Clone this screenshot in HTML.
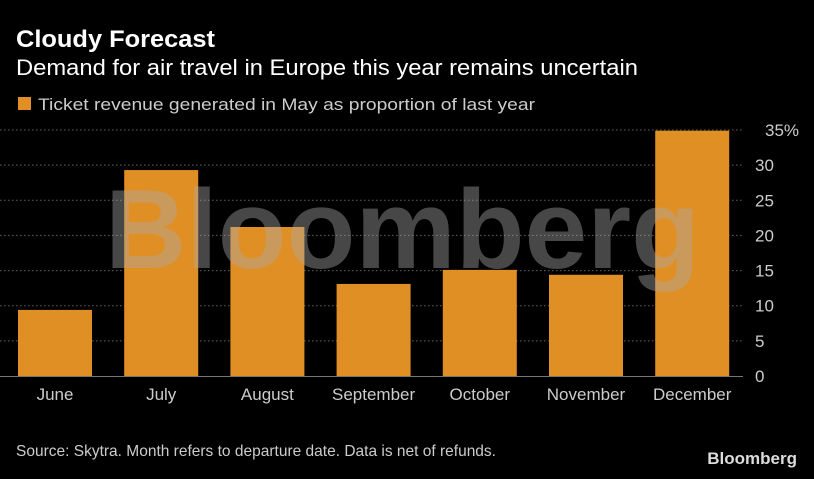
<!DOCTYPE html>
<html><head><meta charset="utf-8"><style>
body{margin:0;background:#000;width:814px;height:474px;overflow:hidden;font-family:"Liberation Sans",sans-serif;color:#fff}
</style></head><body>
<svg width="814" height="474" xmlns="http://www.w3.org/2000/svg">
<text x="16" y="47" font-size="24" font-weight="bold" fill="#fff" textLength="199" lengthAdjust="spacingAndGlyphs">Cloudy Forecast</text>
<text x="16" y="75" font-size="22" fill="#fff" textLength="622" lengthAdjust="spacingAndGlyphs">Demand for air travel in Europe this year remains uncertain</text>
<rect x="18" y="97" width="13" height="13" fill="#e08f25"/>
<text x="38" y="110" font-size="17" fill="#ccc" textLength="497" lengthAdjust="spacingAndGlyphs">Ticket revenue generated in May as proportion of last year</text>
<g id="grid"></g>
<g id="bars"></g>
<text x="105" y="268" font-size="112" font-weight="bold" fill="#aaa" fill-opacity="0.42" textLength="595" lengthAdjust="spacingAndGlyphs">Bloomberg</text>
<g id="labels"></g>
<text x="16" y="456" font-size="16" fill="#ccc" textLength="480" lengthAdjust="spacingAndGlyphs">Source: Skytra. Month refers to departure date. Data is net of refunds.</text>
<text x="797" y="464" font-size="17" font-weight="bold" fill="#ddd" text-anchor="end">Bloomberg</text>
</svg>
<script>
const categories=["June","July","August","September","October","November","December"];
const values=[9.4,29.3,21.2,13.1,15.1,14.4,34.9];
const ticks=[0,5,10,15,20,25,30,35];
const tickLabels=["0","5","10","15","20","25","30","35%"];
const NS="http://www.w3.org/2000/svg";
const y0=376,yTop=130,maxV=35;
const y=v=>y0-(y0-yTop)*v/maxV;
const x=i=>18+i*106.2;
const bw=74;
const grid=document.getElementById('grid'),bars=document.getElementById('bars'),labels=document.getElementById('labels');
ticks.forEach((t,i)=>{
  if(t>0){const l=document.createElementNS(NS,'line');
  l.setAttribute('x1',0);l.setAttribute('x2',743);l.setAttribute('y1',y(t));l.setAttribute('y2',y(t));
  l.setAttribute('stroke','#666');l.setAttribute('stroke-dasharray','1.5 2.5');
  
  
  grid.appendChild(l);}
  const tx=document.createElementNS(NS,'text');
  tx.setAttribute('x',i==ticks.length-1?765:755);tx.setAttribute('y',y(t)+6);
  tx.setAttribute('font-size','17');tx.setAttribute('fill','#ccc');tx.setAttribute('text-anchor','start');
  tx.textContent=tickLabels[i];
  
  
  labels.appendChild(tx);
});
const base=document.createElementNS(NS,'line');
base.setAttribute('x1',0);base.setAttribute('x2',743);base.setAttribute('y1',y0+0.5);base.setAttribute('y2',y0+0.5);base.setAttribute('stroke','#777');


grid.appendChild(base);
categories.forEach((c,i)=>{
  const r=document.createElementNS(NS,'rect');
  r.setAttribute('x',x(i));r.setAttribute('width',bw);r.setAttribute('y',y(values[i]));r.setAttribute('height',y0-y(values[i]));
  r.setAttribute('fill','#e08f25');
  
  
  bars.appendChild(r);
  const t=document.createElementNS(NS,'text');
  t.setAttribute('x',x(i)+bw/2);t.setAttribute('y',400);t.setAttribute('font-size','17');t.setAttribute('fill','#ccc');t.setAttribute('text-anchor','middle');
  t.textContent=c;
  
  
  labels.appendChild(t);
});
</script>
</body></html>
